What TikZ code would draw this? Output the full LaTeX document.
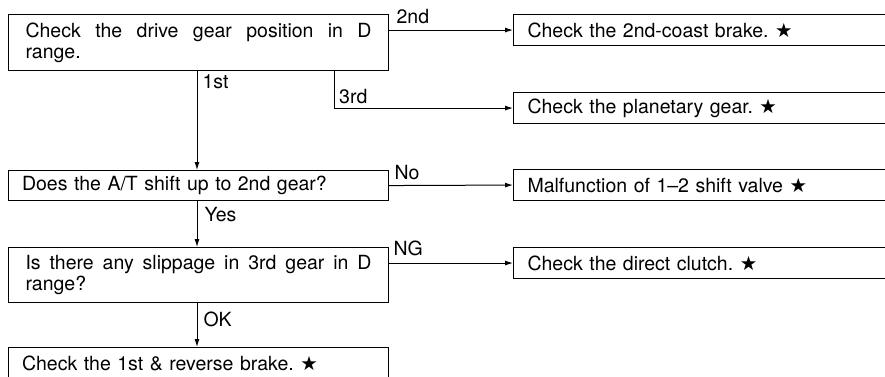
\documentclass[tikz,border=0pt]{standalone}
\usepackage{fontspec}
\setmainfont{TeX Gyre Heros}
\newfontfamily\symfont{DejaVu Sans}
\usetikzlibrary{arrows.meta,positioning,calc}
\newcommand{\blackstar}{{\symfont\char"2605}}
\tikzset{
  txt/.style={font=\fontsize{19.5}{21}\selectfont\frenchspacing},
  stepbase/.style={txt, rectangle, draw=black, line width=1.1pt, anchor=north west,
    inner ysep=0pt},
  twobox/.style={stepbase, text width=346pt, inner xsep=17pt, align=justify,
    minimum height=56pt},
  onebox/.style={stepbase, text width=353pt, inner xsep=13.5pt, align=left,
    minimum height=30pt},
  resbox/.style={stepbase, text width=380pt, inner xsep=14pt, align=left,
    minimum height=31pt},
  lbl/.style={txt, inner sep=0pt},
  flow/.style={-{Latex[length=8pt,width=5pt]}, line width=1pt, draw=black},
}
\begin{document}
\begin{tikzpicture}[x=1pt, y=-1pt]
  \clip (0,0) rectangle (885,376);
  \fill[white] (0,0) rectangle (885,376);
  % left column
  \node[twobox] (gear) at (8,14) {Check the drive gear position in D\linebreak range.};
  \node[onebox] (upshift) at (8,170) {Does the A/T shift up to 2nd gear?};
  \node[twobox, minimum height=55pt] (slip) at (8,247)
    {Is there any slippage in 3rd gear in D\linebreak range?};
  \node[onebox, minimum height=32pt] (lowrev) at (8,347) {Check the 1st \& reverse brake. \blackstar};
  % right column
  \node[resbox] (coast) at (513,14) {Check the 2nd-coast brake. \blackstar};
  \node[resbox] (planet) at (513,92) {Check the planetary gear. \blackstar};
  \node[resbox] (valve) at (513,169) {Malfunction of 1--2 shift valve \blackstar};
  \node[resbox] (clutch) at (513,247) {Check the direct clutch. \blackstar};
  % branch points
  \coordinate (gearA) at ($(gear.south west)+(189,0)$);
  \coordinate (gearB) at ($(gear.south west)+(326,0)$);
  \draw[flow] (gear.east |- coast.west) -- (coast.west)
    node[lbl, pos=0, anchor=base west, xshift=7pt, yshift=7pt] {2nd};
  \draw[flow] (gearA) -- (gearA |- upshift.north)
    node[lbl, pos=0, anchor=base west, xshift=5pt, yshift=-17pt] {1st};
  \draw[flow] (gearB) |- (planet.west);
  \node[lbl, anchor=base west] at ($(gearB |- planet.west)+(5,-5)$) {3rd};
  \draw[flow] (upshift.east) -- (valve.west)
    node[lbl, pos=0, anchor=base west, xshift=5pt, yshift=6pt] {No};
  \draw[flow] (upshift.south -| gearA) -- (slip.north -| gearA)
    node[lbl, pos=0, anchor=base west, xshift=7pt, yshift=-20pt] {Yes};
  \draw[flow] (slip.east |- clutch.west) -- (clutch.west)
    node[lbl, pos=0, anchor=base west, xshift=4pt, yshift=8pt] {NG};
  \draw[flow] (slip.south -| gearA) -- (lowrev.north -| gearA)
    node[lbl, pos=0, anchor=base west, xshift=6pt, yshift=-23pt] {OK};
\end{tikzpicture}
\end{document}
